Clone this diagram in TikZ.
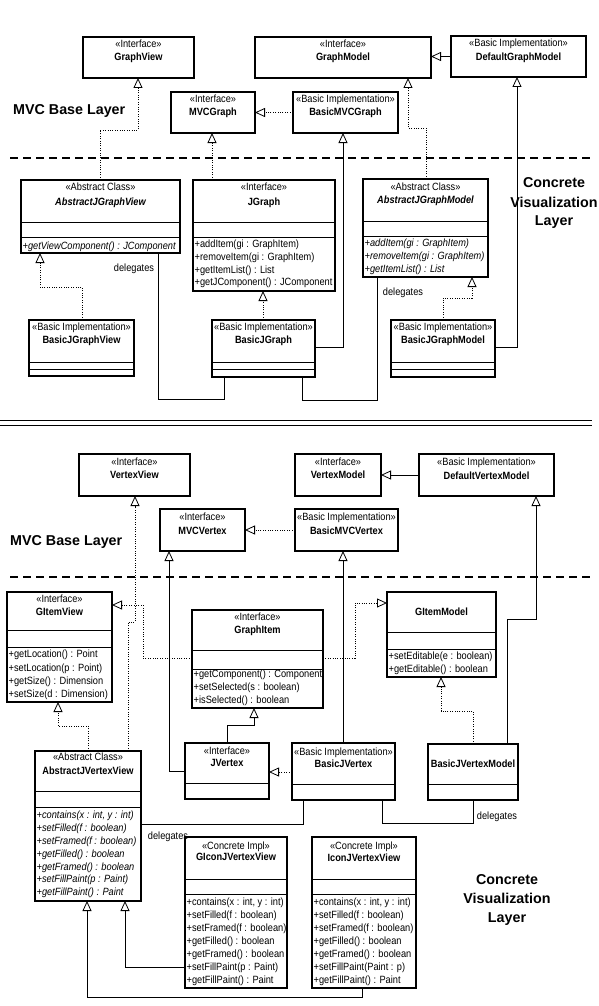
\documentclass[tikz,border=0pt]{standalone}
\usepackage{fontspec}
\usetikzlibrary{arrows.meta,calc}
\newfontfamily\bx[FakeStretch=0.88]{Liberation Sans}
\newfontfamily\hd{Liberation Sans}
\tikzset{
  box/.style={draw, line width=1.1pt, inner sep=0pt, outer sep=0pt},
  boxl/.style={line width=0.9pt},
  st/.style={font=\bx\fontsize{10.5}{12}\selectfont, inner sep=0pt, anchor=base},
  nm/.style={font=\bx\bfseries\fontsize{10.5}{12}\selectfont, inner sep=0pt, anchor=base},
  nmi/.style={font=\bx\bfseries\itshape\fontsize{10.5}{12}\selectfont, inner sep=0pt, anchor=base},
  mt/.style={font=\bx\fontsize{10.5}{12}\selectfont, inner sep=0pt, anchor=base west},
  mti/.style={font=\bx\itshape\fontsize{10.5}{12}\selectfont, inner sep=0pt, anchor=base west},
  lbl/.style={font=\bx\fontsize{10.5}{12}\selectfont, inner sep=0pt},
  hdl/.style={font=\hd\bfseries\fontsize{14.3}{17}\selectfont, inner sep=0pt, anchor=base},
  conn/.style={line width=0.8pt},
  dot/.style={line width=0.8pt, dash pattern=on 1pt off 1.4pt},
  gen/.style={-{Triangle[open,length=10pt,width=9pt,line width=0.8pt]}},
  sep/.style={line width=1.3pt, dash pattern=on 8pt off 5pt},
  dbl/.style={line width=0.9pt}
}
\newcommand\cbox[5]{\node[box, minimum width={#4-#2}, minimum height={#5-#3}] (#1) at ({(#2+#4)/2},{(#3+#5)/2}) {};}
\newcommand\compline[2]{\draw[boxl] (#1.west |- 0,#2) -- (#1.east |- 0,#2);}
\newcommand\meths[6]{\foreach \t [count=\i] in {#6} {\node[#2] (#1\i) at (#3,{#4+#5*(\i-1)}) {\t};}}
\begin{document}
\begin{tikzpicture}[x=1pt,y=-1pt]
\fill[white] (0,0) rectangle (599,1006);
\useasboundingbox (0,0) rectangle (599,1006);

% ================= TOP HALF =================
\cbox{gv}{83}{37}{194}{78}
\node[st] (gvS) at (138.5,48) {«Interface»};
\node[nm] (gvN) at (138.5,61) {GraphView};

\cbox{gm}{255}{37}{431}{78}
\node[st] (gmS) at (343,48) {«Interface»};
\node[nm] (gmN) at (343,61) {GraphModel};

\cbox{dgm}{451}{36}{586}{77}
\node[st] (dgmS) at (518.5,47) {«Basic Implementation»};
\node[nm] (dgmN) at (518.5,60.5) {DefaultGraphModel};

\cbox{mvcg}{171}{92}{255}{133}
\node[st] (mvcgS) at (213,103) {«Interface»};
\node[nm] (mvcgN) at (213,116) {MVCGraph};

\cbox{bmvcg}{293}{92}{398}{133}
\node[st] (bmvcgS) at (345.5,103) {«Basic Implementation»};
\node[nm] (bmvcgN) at (345.5,116) {BasicMVCGraph};

\cbox{ajgv}{21}{180}{180}{253}
\compline{ajgv}{222}\compline{ajgv}{237}
\node[st] (ajgvS) at (100.5,190.5) {«Abstract Class»};
\node[nmi] (ajgvN) at (100.5,205) {AbstractJGraphView};
\node[mti] (ajgvM) at (22.5,249) {+getViewComponent() : JComponent};

\cbox{jg}{193}{180}{335}{291}
\compline{jg}{222}\compline{jg}{237}
\node[st] (jgS) at (264,190.5) {«Interface»};
\node[nm] (jgN) at (264,205) {JGraph};
\meths{jgM}{mt}{194.5}{247.7}{12.7}{{+addItem(gi : GraphItem)},{+removeItem(gi : GraphItem)},{+getItemList() : List},{+getJComponent() : JComponent}}

\cbox{ajgm}{363}{179}{488}{277}
\compline{ajgm}{221}\compline{ajgm}{236}
\node[st] (ajgmS) at (425.5,190) {«Abstract Class»};
\node[nmi] (ajgmN) at (425.5,203.5) {AbstractJGraphModel};
\meths{ajgmM}{mti}{364.5}{246.7}{12.9}{{+addItem(gi : GraphItem)},{+removeItem(gi : GraphItem)},{+getItemList() : List}}

\cbox{bjgv}{29}{320}{134}{376}
\compline{bjgv}{362}\compline{bjgv}{369}
\node[st] (bjgvS) at (81.5,330.5) {«Basic Implementation»};
\node[nm] (bjgvN) at (81.5,343) {BasicJGraphView};

\cbox{bjg}{212}{320}{315}{377}
\compline{bjg}{362}\compline{bjg}{369}
\node[st] (bjgS) at (263.5,330.5) {«Basic Implementation»};
\node[nm] (bjgN) at (263.5,343) {BasicJGraph};

\cbox{bjgm}{391}{320}{495}{377}
\compline{bjgm}{362}\compline{bjgm}{369}
\node[st] (bjgmS) at (443,330.5) {«Basic Implementation»};
\node[nm] (bjgmN) at (443,343) {BasicJGraphModel};

% connectors top
\draw[conn,gen] (dgm.west) -- (dgm.west -| gm.east);
\draw[dot,gen] (bmvcg.west) -- (bmvcg.west -| mvcg.east);
\draw[dot,gen] (ajgv.north -| 100,0) |- (138,130) -- (gv.south -| 138,0);
\draw[dot,gen] (jg.north -| 212,0) -- (mvcg.south -| 212,0);
\draw[dot,gen] (ajgm.north -| 426,0) |- (408,128) -- (gm.south -| 408,0);
\draw[conn,gen] (bjg.east |- 0,347) -| (bmvcg.south -| 343,0);
\draw[conn,gen] (bjgm.east |- 0,347) -| (dgm.south -| 517,0);
\draw[dot,gen] (bjgv.north -| 82,0) |- (40,287) -- (ajgv.south -| 40,0);
\draw[dot,gen] (bjg.north -| 263,0) -- (jg.south -| 263,0);
\draw[dot,gen] (bjgm.north -| 443,0) |- (472,298) -- (ajgm.south -| 472,0);
\draw[conn] (bjg.south -| 224,0) |- (158,399) -- (ajgv.south -| 158,0);
\draw[conn] (bjg.south -| 302,0) |- (377,400) -- (ajgm.south -| 377,0);
\node[lbl] (dl1) at (134,269) {delegates};
\node[lbl] (dl2) at (403,293) {delegates};

\draw[sep] (10,158) -- (593,158);
\node[hdl, anchor=base west] (mvc1) at (13,114) {MVC Base Layer};
\node[hdl] (cvA) at (554,187) {Concrete};
\node[hdl] (cvB) at (554,207) {Visualization};
\node[hdl] (cvC) at (554,225) {Layer};

% double separator
\draw[dbl] (0,420) -- (592,420);
\draw[dbl] (0,425) -- (592,425);

% ================= BOTTOM HALF =================
\cbox{vv}{79}{454}{190}{496}
\node[st] (vvS) at (134.5,465.7) {«Interface»};
\node[nm] (vvN) at (134.5,478.7) {VertexView};

\cbox{vm}{295}{454}{381}{496}
\node[st] (vmS) at (338,465.7) {«Interface»};
\node[nm] (vmN) at (338,478.7) {VertexModel};

\cbox{dvm}{419}{454}{554}{496}
\node[st] (dvmS) at (486.5,465.7) {«Basic Implementation»};
\node[nm] (dvmN) at (486.5,479.5) {DefaultVertexModel};

\cbox{mvcv}{160}{509}{245}{551}
\node[st] (mvcvS) at (202.5,520.7) {«Interface»};
\node[nm] (mvcvN) at (202.5,534.7) {MVCVertex};

\cbox{bmvcv}{295}{509}{398}{551}
\node[st] (bmvcvS) at (346.5,520.7) {«Basic Implementation»};
\node[nm] (bmvcvN) at (346.5,534.7) {BasicMVCVertex};

\node[hdl, anchor=base west] (mvc2) at (10,545) {MVC Base Layer};
\draw[sep] (10,577) -- (593,577);

\cbox{giv}{7}{592}{112}{702}
\compline{giv}{630}\compline{giv}{647}
\node[st] (givS) at (59.5,602.7) {«Interface»};
\node[nm] (givN) at (59.5,615.7) {GItemView};
\meths{givM}{mt}{8.5}{657.7}{13.3}{{+getLocation() : Point},{+setLocation(p : Point)},{+getSize() : Dimension},{+setSize(d : Dimension)}}

\cbox{gi}{192}{610}{323}{708}
\compline{gi}{650}\compline{gi}{669}
\node[st] (giS) at (257.5,620.7) {«Interface»};
\node[nm] (giN) at (257.5,633.7) {GraphItem};
\meths{giM}{mt}{193.5}{677.7}{13}{{+getComponent() : Component},{+setSelected(s : boolean)},{+isSelected() : boolean}}

\cbox{gim}{387}{592}{496}{677}
\compline{gim}{632}\compline{gim}{649}
\node[nm] (gimN) at (441.5,615.7) {GItemModel};
\meths{gimM}{mt}{388.5}{659.7}{13}{{+setEditable(e : boolean)},{+getEditable() : boolean}}

\cbox{jv}{185}{743}{269}{799}
\compline{jv}{783}
\node[st] (jvS) at (227,754.7) {«Interface»};
\node[nm] (jvN) at (227,766.7) {JVertex};

\cbox{bjv}{292}{743}{395}{800}
\compline{bjv}{784}
\node[st] (bjvS) at (343.5,755.7) {«Basic Implementation»};
\node[nm] (bjvN) at (343.5,767.7) {BasicJVertex};

\cbox{bjvm}{428}{744}{518}{800}
\compline{bjvm}{784}
\node[nm] (bjvmN) at (473,767.7) {BasicJVertexModel};

\cbox{ajvv}{35}{751}{141}{901}
\compline{ajvv}{791}\compline{ajvv}{807}
\node[st] (ajvvS) at (88,760.7) {«Abstract Class»};
\node[nm] (ajvvN) at (88,774.7) {AbstractJVertexView};
\meths{ajvvM}{mti}{36.5}{818.7}{12.83}{{+contains(x : int, y : int)},{+setFilled(f : boolean)},{+setFramed(f : boolean)},{+getFilled() : boolean},{+getFramed() : boolean},{+setFillPaint(p : Paint)},{+getFillPaint() : Paint}}

\cbox{gijv}{185}{837}{287}{988}
\compline{gijv}{879}\compline{gijv}{894}
\node[st] (gijvS) at (236,849.7) {«Concrete Impl»};
\node[nm] (gijvN) at (236,860.7) {GIconJVertexView};
\meths{gijvM}{mt}{186.5}{905.7}{13}{{+contains(x : int, y : int)},{+setFilled(f : boolean)},{+setFramed(f : boolean)},{+getFilled() : boolean},{+getFramed() : boolean},{+setFillPaint(p : Paint)},{+getFillPaint() : Paint}}

\cbox{ijv}{312}{837}{416}{988}
\compline{ijv}{879}\compline{ijv}{894}
\node[st] (ijvS) at (364,849.7) {«Concrete Impl»};
\node[nm] (ijvN) at (364,861.7) {IconJVertexView};
\meths{ijvM}{mt}{313.5}{905.7}{13}{{+contains(x : int, y : int)},{+setFilled(f : boolean)},{+setFramed(f : boolean)},{+getFilled() : boolean},{+getFramed() : boolean},{+setFillPaint(Paint : p)},{+getFillPaint() : Paint}}

\node[hdl] (cvD) at (507,884) {Concrete};
\node[hdl] (cvE) at (507,903) {Visualization};
\node[hdl] (cvF) at (507,922) {Layer};

% connectors bottom
\draw[conn,gen] (dvm.west) -- (dvm.west -| vm.east);
\draw[dot,gen] (bmvcv.west) -- (bmvcv.west -| mvcv.east);
\draw[dot,gen] (ajvv.north -| 128,0) |- (135,622) -- (vv.south -| 135,0);
\draw[conn,gen] (jv.west |- 0,771) -| (mvcv.south -| 169,0);
\draw[conn,gen] (bjv.north -| 343,0) -- (bmvcv.south -| 343,0);
\draw[conn,gen] (bjvm.north -| 507,0) |- (536,619) -- (dvm.south -| 536,0);
\draw[dot,gen] (gi.west |- 0,658) -| (143,605) -- (giv.east |- 0,605);
\draw[dot,gen] (gi.east |- 0,658) -| (355,603) -- (gim.west |- 0,603);
\draw[dot,gen] (ajvv.north -| 88,0) |- (58,726) -- (giv.south -| 58,0);
\draw[conn,gen] (jv.north -| 227,0) |- (254,725) -- (gi.south -| 254,0);
\draw[dot,gen] (bjv.west |- 0,772) -- (jv.east |- 0,772);
\draw[dot,gen] (bjvm.north -| 473,0) |- (441,711) -- (gim.south -| 441,0);
\draw[conn] (bjv.south -| 382,0) |- (473,823) -- (bjvm.south -| 473,0);
\draw[conn] (bjv.south -| 303,0) |- (ajvv.east |- 0,824);
\draw[conn,gen] (gijv.west |- 0,967) -| (ajvv.south -| 125,0);
\draw[conn,gen] (ijv.south -| 362,0) |- (87,997) -- (ajvv.south -| 87,0);
\node[lbl] (dl3) at (497,817) {delegates};
\node[lbl] (dl4) at (168,837) {delegates};
\end{tikzpicture}
\end{document}
